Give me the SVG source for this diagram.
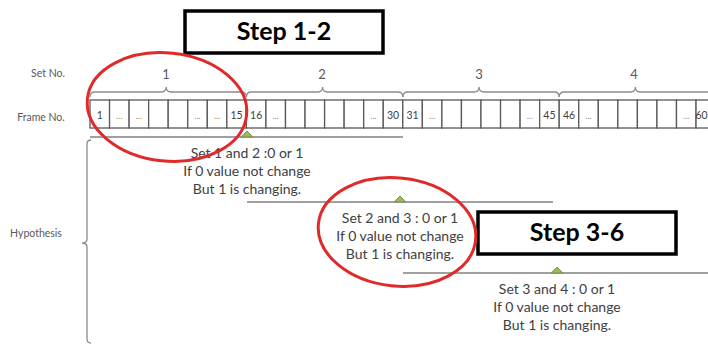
<svg xmlns="http://www.w3.org/2000/svg" width="708" height="346" viewBox="0 0 708 346">
<style>
text{font-family:Lato,"Open Sans","Liberation Sans",sans-serif}
.lbl{font-size:10.5px;fill:#595959;text-anchor:middle}
.setn{font-size:13px;fill:#595959;text-anchor:middle}
.cell{fill:#fff;stroke:#595959;stroke-width:1.3}
.num{font-size:10.5px;fill:#404040;text-anchor:middle}
.dots{font-size:9px;fill:#a08c78;text-anchor:middle}
.brace{fill:none;stroke:#8c8c8c;stroke-width:1.3}
.tl{stroke:#808080;stroke-width:1.5}
.tri{fill:#9bbb59;stroke:#71893f;stroke-width:0.8}
.hyp{font-size:14px;fill:#404040;text-anchor:middle}
.step rect{fill:#fff;stroke:#000;stroke-width:3.5}
.step text{font-size:25px;font-weight:bold;fill:#000;text-anchor:middle}
.ring{fill:none;stroke:#e02a2a;stroke-width:3}
</style>

<g id="labels">
<text class="lbl" x="48" y="77">Set No.</text>
<text class="lbl" x="41" y="121">Frame No.</text>
<text class="lbl" x="36" y="237">Hypothesis</text>
</g>

<g id="step12" class="step">
<rect x="185" y="11" width="198" height="42"/>
<text x="284" y="40">Step 1-2</text>
</g>

<g id="sets">
<text class="setn" x="166" y="79">1</text>
<text class="setn" x="322" y="79">2</text>
<text class="setn" x="479" y="79">3</text>
<text class="setn" x="634" y="79">4</text>
</g>

<g id="frames">
<rect class="cell" x="90" y="100" width="19.55" height="28"/>
<rect class="cell" x="109.55" y="100" width="19.55" height="28"/>
<rect class="cell" x="129.1" y="100" width="19.55" height="28"/>
<rect class="cell" x="148.65" y="100" width="19.55" height="28"/>
<rect class="cell" x="168.2" y="100" width="19.55" height="28"/>
<rect class="cell" x="187.75" y="100" width="19.55" height="28"/>
<rect class="cell" x="207.3" y="100" width="19.55" height="28"/>
<rect class="cell" x="226.85" y="100" width="19.55" height="28"/>
<rect class="cell" x="246.4" y="100" width="19.55" height="28"/>
<rect class="cell" x="265.95" y="100" width="19.55" height="28"/>
<rect class="cell" x="285.5" y="100" width="19.55" height="28"/>
<rect class="cell" x="305.05" y="100" width="19.55" height="28"/>
<rect class="cell" x="324.6" y="100" width="19.55" height="28"/>
<rect class="cell" x="344.15" y="100" width="19.55" height="28"/>
<rect class="cell" x="363.7" y="100" width="19.55" height="28"/>
<rect class="cell" x="383.25" y="100" width="19.55" height="28"/>
<rect class="cell" x="402.8" y="100" width="19.55" height="28"/>
<rect class="cell" x="422.35" y="100" width="19.55" height="28"/>
<rect class="cell" x="441.9" y="100" width="19.55" height="28"/>
<rect class="cell" x="461.45" y="100" width="19.55" height="28"/>
<rect class="cell" x="481" y="100" width="19.55" height="28"/>
<rect class="cell" x="500.55" y="100" width="19.55" height="28"/>
<rect class="cell" x="520.1" y="100" width="19.55" height="28"/>
<rect class="cell" x="539.65" y="100" width="19.55" height="28"/>
<rect class="cell" x="559.2" y="100" width="19.55" height="28"/>
<rect class="cell" x="578.75" y="100" width="19.55" height="28"/>
<rect class="cell" x="598.3" y="100" width="19.55" height="28"/>
<rect class="cell" x="617.85" y="100" width="19.55" height="28"/>
<rect class="cell" x="637.4" y="100" width="19.55" height="28"/>
<rect class="cell" x="656.95" y="100" width="19.55" height="28"/>
<rect class="cell" x="676.5" y="100" width="19.55" height="28"/>
<rect class="cell" x="696.05" y="100" width="19.55" height="28"/>
<text class="num" x="99.8" y="119">1</text>
<text class="dots" x="119.3" y="119">...</text>
<text class="dots" x="138.9" y="119">...</text>
<text class="dots" x="197.5" y="119">...</text>
<text class="dots" x="217.1" y="119">...</text>
<text class="num" x="236.6" y="119">15</text>
<text class="num" x="256.2" y="119">16</text>
<text class="dots" x="275.7" y="119">...</text>
<text class="dots" x="373.5" y="119">...</text>
<text class="num" x="393" y="119">30</text>
<text class="num" x="412.6" y="119">31</text>
<text class="dots" x="432.1" y="119">...</text>
<text class="dots" x="529.9" y="119">...</text>
<text class="num" x="549.4" y="119">45</text>
<text class="num" x="569" y="119">46</text>
<text class="dots" x="588.5" y="119">...</text>
<text class="dots" x="686.3" y="119">...</text>
<text class="num" x="701.5" y="119">60</text>
</g>

<g id="hyp1">
<text class="hyp" x="247" y="158">Set 1 and 2 :0 or 1</text>
<text class="hyp" x="247" y="176">If 0 value not change</text>
<text class="hyp" x="247" y="194">But 1 is changing.</text>
</g>
<g id="hyp2">
<text class="hyp" x="400" y="223">Set 2 and 3 : 0 or 1</text>
<text class="hyp" x="400" y="241">If 0 value not change</text>
<text class="hyp" x="400" y="259">But 1 is changing.</text>
</g>
<g id="hyp3">
<text class="hyp" x="557" y="294">Set 3 and 4 : 0 or 1</text>
<text class="hyp" x="557" y="312">If 0 value not change</text>
<text class="hyp" x="557" y="330">But 1 is changing.</text>
</g>

<g id="step36" class="step">
<rect x="478" y="212" width="198" height="42"/>
<text x="577" y="241">Step 3-6</text>
</g>

<g id="connectors">
<path class="brace" d="M90,97 Q90,92 95,92 H161.2 Q166.2,92 166.2,87 Q166.2,92 171.2,92 H241.4 Q246.4,92 246.4,97"/>
<path class="brace" d="M246.4,97 Q246.4,92 251.4,92 H317.6 Q322.6,92 322.6,87 Q322.6,92 327.6,92 H397.8 Q402.8,92 402.8,97"/>
<path class="brace" d="M402.8,97 Q402.8,92 407.8,92 H474 Q479,92 479,87 Q479,92 484,92 H554.2 Q559.2,92 559.2,97"/>
<path class="brace" d="M559.2,97 Q559.2,92 564.2,92 H630.4 Q635.4,92 635.4,87 Q635.4,92 640.4,92 H710.6 Q715.6,92 715.6,97"/>
<path class="brace" d="M91,140 Q87,140 87,144 V239 Q87,243 82,243 Q87,243 87,247 V339 Q87,343 91,343"/>
<line class="tl" x1="90" y1="137" x2="403" y2="137"/>
<line class="tl" x1="247" y1="202" x2="553" y2="202"/>
<line class="tl" x1="403" y1="273" x2="708" y2="273"/>
<polygon class="tri" points="241,137 247,131 253,137"/>
<polygon class="tri" points="394,202 400,196 406,202"/>
<polygon class="tri" points="551,273 557,267 563,273"/>
</g>

<g id="rings">
<ellipse class="ring" cx="167" cy="107" rx="80" ry="54" transform="rotate(6 167 107)"/>
<ellipse class="ring" cx="397" cy="232" rx="79" ry="54" transform="rotate(6 397 232)"/>
</g>
</svg>
